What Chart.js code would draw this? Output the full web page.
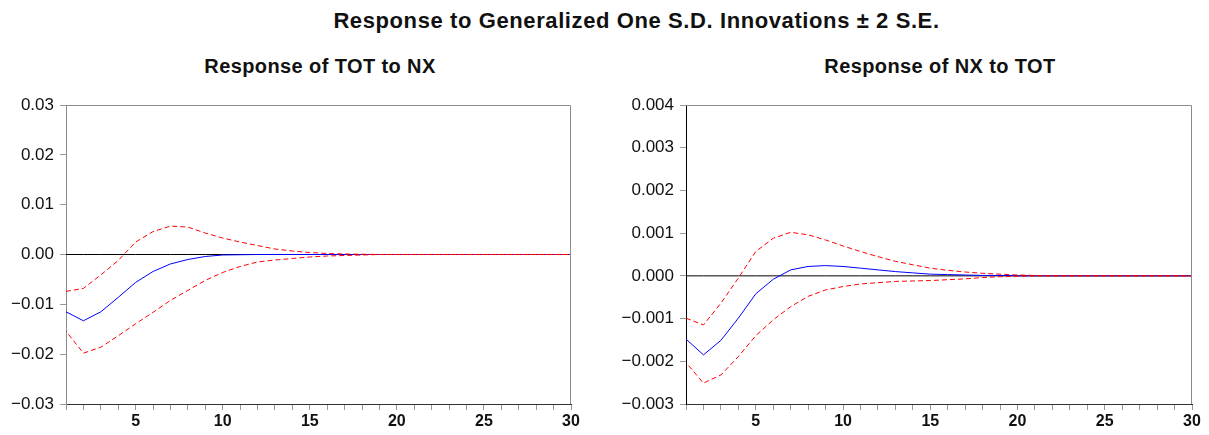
<!DOCTYPE html>
<html>
<head>
<meta charset="utf-8">
<script src="https://cdn.jsdelivr.net/npm/chart.js@4.4.1/dist/chart.umd.min.js"></script>
<style>
  html, body { margin: 0; padding: 0; background: #fff; }
  body { width: 1209px; height: 435px; position: relative; overflow: hidden; font-family: "Liberation Sans", Arial, sans-serif; }
  .title { position: absolute; left: 32px; width: 1209px; top: 8px; text-align: center; font-size: 22px; font-weight: bold; color: #111; letter-spacing: 0.6px; }
  .sub { position: absolute; top: 55px; font-size: 20px; font-weight: bold; color: #111; text-align: center; letter-spacing: 0.4px; }
  #subL { left: 120px; width: 400px; }
  #subR { left: 740px; width: 400px; }
  canvas { position: absolute; top: 0; }
  #cL { left: 0; }
  #cR { left: 600px; }
</style>
</head>
<body>
<div class="title">Response to Generalized One S.D. Innovations ± 2 S.E.</div>
<div class="sub" id="subL">Response of TOT to NX</div>
<div class="sub" id="subR">Response of NX to TOT</div>
<canvas id="cL" width="600" height="435"></canvas>
<canvas id="cR" width="609" height="435"></canvas>
<script>
// Forecast horizon (periods)
const periods = [1,2,3,4,5,6,7,8,9,10,11,12,13,14,15,16,17,18,19,20,21,22,23,24,25,26,27,28,29,30];

// Response of TOT to NX
const totResp  = [-0.0115, -0.0133, -0.0115, -0.0086, -0.0056, -0.0034, -0.0019, -0.0010, -0.0004, -0.0001, -0.00005, 0, 0, 0, 0, 0, 0, 0, 0, 0, 0, 0, 0, 0, 0, 0, 0, 0, 0, 0];
const totUpper = [-0.0074, -0.0068, -0.0041, -0.0012, 0.0025, 0.0046, 0.0057, 0.0055, 0.0043, 0.0033, 0.0025, 0.0018, 0.0011, 0.0007, 0.0004, 0.0002, 0.0001, 0.00005, 0, 0, 0, 0, 0, 0, 0, 0, 0, 0, 0, 0];
const totLower = [-0.0154, -0.0198, -0.0186, -0.0163, -0.0139, -0.0116, -0.0092, -0.0072, -0.0052, -0.0036, -0.0024, -0.0015, -0.0011, -0.0008, -0.0005, -0.0003, -0.0002, -0.0001, 0, 0, 0, 0, 0, 0, 0, 0, 0, 0, 0, 0];

// Response of NX to TOT
const nxResp  = [-0.00148, -0.00185, -0.00151, -0.00099, -0.00042, -0.00008, 0.00014, 0.00022, 0.00024, 0.00022, 0.00018, 0.00014, 0.00010, 0.00007, 0.00004, 0.00003, 0.00002, 0.00001, 0.00001, 0, 0, 0, 0, 0, 0, 0, 0, 0, 0, 0];
const nxUpper = [-0.00099, -0.00115, -0.00064, -0.00005, 0.00057, 0.00088, 0.00102, 0.00096, 0.00084, 0.00070, 0.00057, 0.00045, 0.00034, 0.00026, 0.00018, 0.00013, 0.00009, 0.00006, 0.00004, 0.00002, 0.00001, 0, 0, 0, 0, 0, 0, 0, 0, 0];
const nxLower = [-0.00203, -0.00251, -0.00232, -0.00189, -0.00140, -0.00103, -0.00072, -0.00048, -0.00033, -0.00025, -0.00019, -0.00016, -0.00013, -0.00012, -0.00011, -0.00009, -0.00007, -0.00004, -0.00002, -0.00001, 0, 0, 0, 0, 0, 0, 0, 0, 0, 0];

// Axis settings
const totTicks = { min: -0.03, max: 0.03, step: 0.01, digits: 2 };
const nxTicks  = { min: -0.003, max: 0.004, step: 0.001, digits: 3 };

const FONT = '"Liberation Sans", Arial, sans-serif';

// Grey frame around the plot area
const framePlugin = {
  id: 'frame',
  afterDatasetsDraw(chart) {
    const { ctx, chartArea: a } = chart;
    ctx.save();
    ctx.strokeStyle = '#8c8c8c';
    ctx.lineWidth = 1;
    ctx.beginPath();
    ctx.moveTo(a.left, a.top + 0.5);
    ctx.lineTo(a.right - 0.5, a.top + 0.5);
    ctx.lineTo(a.right - 0.5, a.bottom);
    ctx.stroke();
    ctx.restore();
  }
};

function toPoints(vals) {
  return periods.map((p, i) => ({ x: p, y: vals[i] }));
}

function makeChart(id, resp, upper, lower, t, yWidth, rightPad, yBorder) {
  const zero = periods.map(() => 0);
  return new Chart(document.getElementById(id), {
    type: 'line',
    data: {
      datasets: [
        { data: toPoints(zero), borderColor: '#000', borderWidth: 1, pointRadius: 0, tension: 0, order: 4 },
        { data: toPoints(resp), borderColor: '#0000ff', borderWidth: 1, pointRadius: 0, tension: 0, order: 3 },
        { data: toPoints(upper), borderColor: '#ff0000', borderWidth: 1, borderDash: [5, 3], pointRadius: 0, tension: 0, order: 1 },
        { data: toPoints(lower), borderColor: '#ff0000', borderWidth: 1, borderDash: [5, 3], borderDashOffset: 4, pointRadius: 0, tension: 0, order: 1 }
      ]
    },
    options: {
      responsive: false,
      animation: false,
      events: [],
      layout: { padding: { top: 105, right: rightPad, bottom: 0, left: 0 } },
      plugins: { legend: { display: false }, tooltip: { enabled: false }, title: { display: false } },
      scales: {
        x: {
          type: 'linear',
          min: 1, max: 30,
          afterFit(scale) { scale.height = 31; },
          border: { display: true, color: '#333', width: 1 },
          grid: { drawOnChartArea: false, drawTicks: true, tickLength: 6, tickColor: '#999' },
          ticks: {
            stepSize: 1, autoSkip: false, maxRotation: 0, padding: 2,
            color: '#111',
            font: { family: FONT, size: 16, weight: 'bold' },
            callback: v => (v % 5 === 0 ? String(v) : '')
          }
        },
        y: {
          type: 'linear',
          min: t.min, max: t.max,
          afterFit(scale) { scale.width = yWidth; },
          border: { display: true, color: yBorder, width: 1 },
          grid: { drawOnChartArea: false, drawTicks: true, tickLength: 6, tickColor: '#999' },
          ticks: {
            stepSize: t.step, padding: 6,
            color: '#111',
            font: { family: FONT, size: 17 },
            callback: v => {
              const s = Math.abs(v).toFixed(t.digits);
              return v < -1e-12 ? '\u2212' + s : s;
            }
          }
        }
      }
    },
    plugins: [framePlugin]
  });
}

makeChart('cL', totResp, totUpper, totLower, totTicks, 66, 29, '#8c8c8c');
makeChart('cR', nxResp, nxUpper, nxLower, nxTicks, 86, 17, '#000');
</script>
</body>
</html>
